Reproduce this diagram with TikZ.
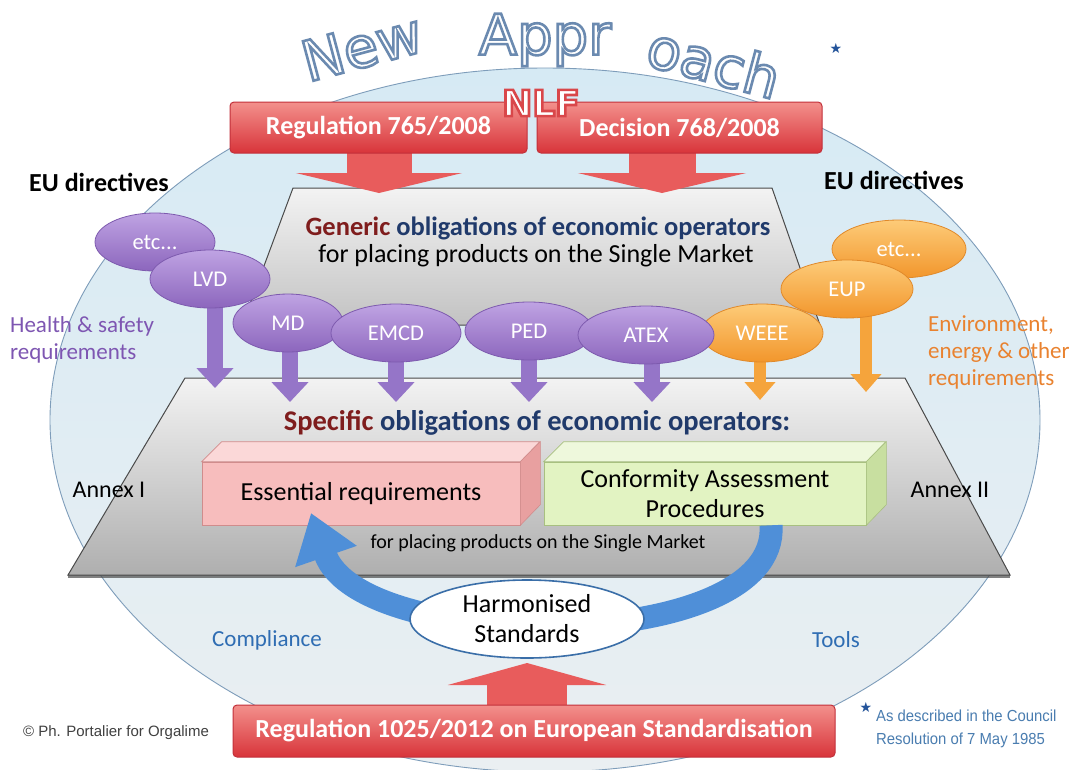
\documentclass[tikz,border=0pt]{standalone}
\usepackage{fontspec}
\setmainfont{Carlito}
\newfontfamily\arialfont{Liberation Sans}
\newfontfamily\narrowfont[FakeStretch=0.93]{Liberation Sans}
\newfontfamily\titlefont{DejaVu Sans}
\usetikzlibrary{arrows.meta,shapes.geometric}

\newcommand\fsz[2]{\fontsize{#1}{#2}\selectfont}
% hollow lettering: white fill, coloured outline (text render mode 2)
\newcommand\hollowtext[3]{%
  \special{pdf:literal direct q 2 Tr #2 w #1 RG 1 1 1 rg}#3\special{pdf:literal direct Q}}

\definecolor{skytop}{HTML}{D6EAF4}
\definecolor{skybot}{HTML}{EAEFF2}
\definecolor{skyline}{HTML}{7E9DBA}
\definecolor{redtop}{HTML}{F3908C}
\definecolor{redbot}{HTML}{D8343A}
\definecolor{rededge}{HTML}{C2303A}
\definecolor{redarrow}{HTML}{E85C5C}
\definecolor{graytop}{HTML}{F3F3F3}
\definecolor{graybot}{HTML}{C2C2C2}
\definecolor{grayedge}{HTML}{4A4A4A}
\definecolor{purptop}{HTML}{BFA3E3}
\definecolor{purpbot}{HTML}{8C66BD}
\definecolor{purpedge}{HTML}{7D5AAE}
\definecolor{purparrow}{HTML}{9575C8}
\definecolor{orgtop}{HTML}{FDCB78}
\definecolor{orgbot}{HTML}{F2962C}
\definecolor{orgedge}{HTML}{E0892A}
\definecolor{orgarrow}{HTML}{F5A43C}
\definecolor{darkred}{HTML}{7F1D1D}
\definecolor{navy}{HTML}{203A6B}
\definecolor{purptext}{HTML}{7E56B2}
\definecolor{orgtext}{HTML}{E9822F}
\definecolor{bluetext}{HTML}{2F6DB3}
\definecolor{footblue}{HTML}{4A7DB0}
\definecolor{starblue}{HTML}{24549A}
\definecolor{pinkfront}{HTML}{F7BDBD}
\definecolor{pinktop}{HTML}{FBD8D8}
\definecolor{pinkside}{HTML}{E8A0A0}
\definecolor{pinkedge}{HTML}{D08C8C}
\definecolor{greenfront}{HTML}{E2F3C2}
\definecolor{greentop}{HTML}{EEF8DC}
\definecolor{greenside}{HTML}{C8DFA0}
\definecolor{greenedge}{HTML}{A8C080}
\definecolor{arrowblue}{HTML}{4F8FD8}
\definecolor{hsedge}{HTML}{3A6EA8}

\pgfdeclarelayer{bg}
\pgfdeclarelayer{mid}
\pgfsetlayers{bg,mid,main}

\tikzset{
  titleword/.style={font=\titlefont\fsz{56}{60}, text=white, inner sep=0},
  banner/.style={rounded corners=4pt, draw=rededge, line width=1pt,
    top color=redtop, bottom color=redbot, text=white,
    font=\bfseries\fsz{26}{30}, inner sep=0},
  directive/.style={ellipse, inner sep=0, line width=0.8pt, minimum height=58pt,
    text=white, font=\fsz{22.5}{24}},
  purple/.style={directive, draw=purpedge, top color=purptop, bottom color=purpbot},
  orange/.style={directive, draw=orgedge, top color=orgtop, bottom color=orgbot},
  purplearrow/.style={draw=purparrow, line width=16pt,
    -{Triangle[width=36pt,length=20pt]}},
  orangearrow/.style={draw=orgarrow, line width=12pt,
    -{Triangle[width=30pt,length=18pt]}},
  plain/.style={inner sep=0, font=\fsz{26}{30}},
  sidelabel/.style={inner sep=0, font=\fsz{23}{27}, align=left},
  cube/.style={inner sep=0, minimum height=63pt, line width=0.6pt,
    font=\fsz{26}{30}, align=center},
}

\begin{document}
\begin{tikzpicture}[x=1pt, y=-1pt]
\useasboundingbox (0,0) rectangle (1073,769);

\begin{pgfonlayer}{bg}
\fill[white] (0,0) rectangle (1073,769);
% large background ellipse
\shade[top color=skytop, bottom color=skybot] (545,420) ellipse [x radius=495, y radius=352];
\draw[skyline, line width=0.9pt] (545,420) ellipse [x radius=495, y radius=352];
% generic obligations (upper trapezoid, lower part hidden by the directives)
\draw[grayedge, line width=1pt, top color=graytop, bottom color=graybot]
  (293,188) -- (772,188) -- (820,325) -- (242,325) -- cycle;
% specific obligations (lower trapezoid)
\draw[grayedge, line width=1pt, top color=graytop, bottom color=graybot!90!black]
  (185,378) -- (905,378) -- (1010,575) -- (68,575) -- cycle;
\draw[black!70, line width=2.5pt, opacity=0.7] (68,576.5) -- (1010,576.5);
\end{pgfonlayer}

% red framework banners
\node[banner, minimum width=297pt, minimum height=51pt] (reg) at (378.5,127.5) {Regulation 765/2008};
\node[banner, minimum width=285pt, minimum height=51pt] (dec) at (679.5,127.5) {Decision 768/2008};
\coordinate (tipReg) at (379,193);
\coordinate (tipDec) at (662,193);
\begin{pgfonlayer}{mid}
\draw[draw=redarrow, line width=65pt, -{Triangle[width=166pt,length=20pt]}]
  (reg.center -| tipReg) -- (tipReg);
\draw[draw=redarrow, line width=67pt, -{Triangle[width=168pt,length=20pt]}]
  (dec.center -| tipDec) -- (tipDec);
\end{pgfonlayer}

% title
\node[titleword, rotate=15] (tNew) at (362,47) {\hollowtext{0.42 0.54 0.69}{2.6}{New}};
\node[titleword] (tAppr) at (545,40) {\hollowtext{0.42 0.54 0.69}{2.6}{Appr}};
\node[titleword, rotate=-15] (tOach) at (714,62) {\hollowtext{0.42 0.54 0.69}{2.6}{oach}};
\node[inner sep=0, text=starblue, font=\titlefont\fsz{14}{14}] (tStar) at (836,48) {★};
\node[inner sep=0, text=white, font=\titlefont\bfseries\fsz{36}{38}] (nlf) at (541,103)
  {\hollowtext{0.85 0.28 0.29}{2.6}{NLF}};

% headings
\node[plain, font=\bfseries\fsz{26}{30}] (euL) at (99,182) {EU directives};
\node[plain, font=\bfseries\fsz{26}{30}] (euR) at (894,180) {EU directives};
\node[plain, font=\bfseries\fsz{26.5}{30}] (gen1) at (538,228)
  {\textcolor{darkred}{Generic} \textcolor{navy}{obligations of economic operators}};
\node[plain] (gen2) at (536,256) {for placing products on the Single Market};

\node[sidelabel, text=purptext, anchor=west] (hs) at (10,340) {Health \& safety\\requirements};
\node[sidelabel, text=orgtext, anchor=west] (env) at (928,352) {Environment,\\energy \& other\\requirements};

% directive ellipses, back to front
\node[orange, minimum width=134pt] (etcR) at (899,249) {etc...};
\node[orange, minimum width=132pt] (EUP) at (847,289) {EUP};
\node[orange, minimum width=122pt] (WEEE) at (762,333) {WEEE};
\node[purple, minimum width=120pt] (etcL) at (155,242) {etc...};
\node[purple, minimum width=120pt] (LVD) at (210,279) {LVD};
\node[purple, minimum width=110pt] (MD) at (288,323) {MD};
\node[purple, minimum width=130pt] (EMCD) at (396,333) {EMCD};
\node[purple, minimum width=128pt] (PED) at (529,331) {PED};
\node[purple, minimum width=136pt] (ATEX) at (646,335) {ATEX};

% directive arrows, tucked under their ellipses
\coordinate (aLVD) at (215,388);
\coordinate (aMD) at (290,402);
\coordinate (aEMCD) at (396,402);
\coordinate (aPED) at (529,402);
\coordinate (aATEX) at (652,402);
\coordinate (aWEEE) at (760,400);
\coordinate (aEUP) at (866,392);
\begin{pgfonlayer}{mid}
\draw[purplearrow] (LVD.center -| aLVD) -- (aLVD);
\draw[purplearrow] (MD.center -| aMD) -- (aMD);
\draw[purplearrow] (EMCD.center -| aEMCD) -- (aEMCD);
\draw[purplearrow] (PED.center -| aPED) -- (aPED);
\draw[purplearrow] (ATEX.center -| aATEX) -- (aATEX);
\draw[orangearrow] (WEEE.center -| aWEEE) -- (aWEEE);
\draw[orangearrow] (EUP.center -| aEUP) -- (aEUP);
\end{pgfonlayer}

\node[plain, font=\bfseries\fsz{28.5}{32}] (spec) at (537,423)
  {\textcolor{darkred}{Specific} \textcolor{navy}{obligations of economic operators:}};

% 3D boxes
\node[cube, minimum width=318pt, draw=pinkedge, fill=pinkfront] (ess) at (361,493.5) {Essential requirements};
\draw[pinkedge, line width=0.6pt, fill=pinktop] (ess.north west) -- ++(20,-20) -- ++(318,0) -- (ess.north east) -- cycle;
\draw[pinkedge, line width=0.6pt, fill=pinkside] (ess.north east) -- ++(20,-20) -- ++(0,63) -- (ess.south east) -- cycle;

\node[cube, minimum width=322pt, draw=greenedge, fill=greenfront] (cap) at (705,493.5) {Conformity Assessment\\Procedures};
\draw[greenedge, line width=0.6pt, fill=greentop] (cap.north west) -- ++(20,-20) -- ++(322,0) -- (cap.north east) -- cycle;
\draw[greenedge, line width=0.6pt, fill=greenside] (cap.north east) -- ++(20,-20) -- ++(0,63) -- (cap.south east) -- cycle;

\node[plain, font=\fsz{24}{28}] (ax1) at (109,490) {Annex I};
\node[plain, font=\fsz{24}{28}] (ax2) at (950,490) {Annex II};
\node[plain, font=\fsz{20}{24}] (place) at (538,543) {for placing products on the Single Market};

% harmonised standards loop
\coordinate (loopTip) at (311,513);
\draw[arrowblue, line width=23pt, -{Triangle[width=62pt,length=46pt]}]
  ([xshift=66pt]cap.south) .. controls (780,655) and (360,655) .. (loopTip);
\node[ellipse, draw=hsedge, line width=1.6pt, fill=white, minimum width=234pt, minimum height=78pt,
  inner sep=0, align=center, font=\fsz{26}{30}] (hstd) at (527,619) {Harmonised\\Standards};

\node[plain, text=bluetext, font=\fsz{23}{27}] (comp) at (267,640) {Compliance};
\node[plain, text=bluetext, font=\fsz{23}{27}] (tools) at (836,640) {Tools};

% standardisation regulation
\node[banner, minimum width=602pt, minimum height=52pt] (std) at (534,731)
  {Regulation 1025/2012 on European Standardisation};
\coordinate (tipStd) at (527,663);
\begin{pgfonlayer}{mid}
\draw[draw=redarrow, line width=80pt, -{Triangle[width=158pt,length=22pt]}]
  (std.center -| tipStd) -- (tipStd);
\end{pgfonlayer}

\node[inner sep=0, text=black!75, font=\arialfont\fsz{15}{17}] (copy) at (116,733) {© Ph. Portalier for Orgalime};
\node[inner sep=0, text=starblue, font=\titlefont\fsz{14}{14}] (fStar) at (866,707) {★};
\node[inner sep=0, anchor=west, text=footblue, font=\narrowfont\fsz{16}{22.5}, align=left] (foot) at (876,729)
  {As described in the Council\\Resolution of 7 May 1985};
\end{tikzpicture}
\end{document}
